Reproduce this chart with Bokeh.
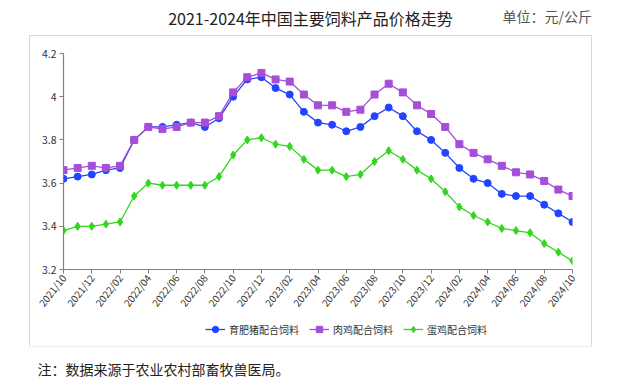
import math
from bokeh.plotting import figure
from bokeh.layouts import column
from bokeh.models import Range1d, FixedTicker, Label, Legend, LegendItem
from bokeh.embed import file_html
from bokeh.resources import INLINE

months = ["2021/10", "2021/11", "2021/12", "2022/01", "2022/02", "2022/03", "2022/04",
          "2022/05", "2022/06", "2022/07", "2022/08", "2022/09", "2022/10", "2022/11",
          "2022/12", "2023/01", "2023/02", "2023/03", "2023/04", "2023/05", "2023/06",
          "2023/07", "2023/08", "2023/09", "2023/10", "2023/11", "2023/12", "2024/01",
          "2024/02", "2024/03", "2024/04", "2024/05", "2024/06", "2024/07", "2024/08",
          "2024/09", "2024/10"]

pig = [3.62, 3.63, 3.64, 3.66, 3.67, 3.80, 3.86, 3.86, 3.87, 3.88, 3.86, 3.90,
       4.00, 4.08, 4.09, 4.04, 4.01, 3.93, 3.88, 3.87, 3.84, 3.86, 3.91, 3.95,
       3.91, 3.84, 3.80, 3.74, 3.67, 3.62, 3.60, 3.55, 3.54, 3.54, 3.50, 3.46, 3.42]
broiler = [3.66, 3.67, 3.68, 3.67, 3.68, 3.80, 3.86, 3.85, 3.86, 3.88, 3.88, 3.91,
           4.02, 4.09, 4.11, 4.08, 4.07, 4.01, 3.96, 3.96, 3.93, 3.94, 4.01, 4.06,
           4.02, 3.96, 3.92, 3.86, 3.78, 3.74, 3.71, 3.68, 3.65, 3.64, 3.61, 3.57, 3.54]
layer = [3.38, 3.40, 3.40, 3.41, 3.42, 3.54, 3.60, 3.59, 3.59, 3.59, 3.59, 3.63,
         3.73, 3.80, 3.81, 3.78, 3.77, 3.71, 3.66, 3.66, 3.63, 3.64, 3.70, 3.75,
         3.71, 3.66, 3.62, 3.56, 3.49, 3.45, 3.42, 3.39, 3.38, 3.37, 3.32, 3.28, 3.24]

series_names = ["育肥猪配合饲料", "肉鸡配合饲料", "蛋鸡配合饲料"]
y_ticks = [3.2, 3.4, 3.6, 3.8, 4.0, 4.2]
title_text = "2021-2024年中国主要饲料产品价格走势"
unit_text = "单位：元/公斤"
note_text = "注：数据来源于农业农村部畜牧兽医局。"

x = list(range(len(months)))
XMAX = len(months) - 1
FONT = "Noto Sans CJK SC"
PAGE_W = 620

colors = ["#2244ff", "#a64ed8", "#33d61f"]
markers = ["circle", "square", "diamond"]
sizes = [7, 7, 8]


def strip(h, y0):
    f = figure(width=PAGE_W, height=h, output_backend="svg", toolbar_location=None,
               x_range=Range1d(0, PAGE_W), y_range=Range1d(y0 + h, y0),
               x_axis_location=None, y_axis_location=None,
               min_border=0, min_border_left=0, min_border_right=0,
               min_border_top=0, min_border_bottom=0)
    f.outline_line_color = None
    f.grid.visible = False
    return f


# ---- top strip: title + unit ----
TOP_H = 36
top = strip(TOP_H, 0)
top.add_layout(Label(x=310, y=17, text=title_text, text_align="center", text_baseline="middle",
                     text_font=FONT, text_font_size="16px", text_color="#222222"))
top.add_layout(Label(x=502, y=15, text=unit_text, text_align="left", text_baseline="middle",
                     text_font=FONT, text_font_size="14px", text_color="#555555"))

# ---- main chart ----
BOX_L, BOX_T, BOX_R, BOX_B = 30, 36, 591, 346
FL, FT, FRX, FBY = 63, 53, 572, 270
LEG_TOP = 317
W = BOX_R - BOX_L
H = LEG_TOP - BOX_T

p = figure(width=W, height=H, output_backend="svg", toolbar_location=None,
           x_range=Range1d(0, XMAX), y_range=Range1d(3.2, 4.2),
           min_border_left=FL - BOX_L, min_border_right=BOX_R - FRX,
           min_border_top=FT - BOX_T, min_border_bottom=LEG_TOP - FBY)
p.outline_line_color = None
p.xgrid.visible = False
p.ygrid.visible = False

for ax in (p.xaxis[0], p.yaxis[0]):
    ax.axis_line_color = "#808080"
    ax.axis_line_width = 1.2
    ax.major_tick_line_color = "#808080"
    ax.major_tick_out = 4
    ax.major_tick_in = 0
    ax.minor_tick_line_color = None
    ax.major_label_text_color = "#333333"
    ax.major_label_text_font = FONT
    ax.major_label_text_font_size = "10.5px"

p.yaxis[0].ticker = FixedTicker(ticks=y_ticks)
p.yaxis[0].major_label_overrides = {t: ("4" if abs(t - 4) < 1e-9 else f"{t:.1f}") for t in y_ticks}
p.yaxis[0].major_label_standoff = 3

tick_idx = list(range(0, len(months), 2))
p.xaxis[0].ticker = FixedTicker(ticks=tick_idx)
p.xaxis[0].major_label_overrides = {i: months[i] for i in tick_idx}
p.xaxis[0].major_label_orientation = math.radians(52)
p.xaxis[0].major_label_standoff = 2
p.xaxis[0].major_label_text_font_size = "10px"

for d, c, m, s in zip([pig, broiler, layer], colors, markers, sizes):
    p.line(x, d, line_color=c, line_width=1.3)
    p.scatter(x, d, marker=m, size=s, fill_color=c, line_color=c)

# ---- legend strip (inside the box) ----
LEG_H = BOX_B - LEG_TOP
leg = figure(width=W, height=LEG_H, output_backend="svg", toolbar_location=None,
             x_range=Range1d(0, 1), y_range=Range1d(0, 1),
             x_axis_location=None, y_axis_location=None,
             min_border=0, min_border_left=0, min_border_right=0,
             min_border_top=0, min_border_bottom=0)
leg.outline_line_color = None
leg.grid.visible = False
items = []
for name, c, m, s in zip(series_names, colors, markers, sizes):
    ln = leg.line([-5, -4], [-5, -5], line_color=c, line_width=1.3)
    sc = leg.scatter([-5], [-5], marker=m, size=s, fill_color=c, line_color=c)
    items.append(LegendItem(label=name, renderers=[ln, sc]))
legend = Legend(items=items, orientation="horizontal", location=(142, 9),
                label_text_font=FONT, label_text_font_size="10px", label_text_color="#333333",
                glyph_width=20, glyph_height=16, label_standoff=4, spacing=10,
                padding=0, margin=0, border_line_color=None, background_fill_alpha=0,
                label_height=16)
leg.add_layout(legend)

box = column(p, leg, spacing=0, margin=(0, 0, 0, BOX_L),
             styles={"outline": "1px solid #d9d9d9"})

# ---- bottom strip: footnote ----
BOT_H = 36
bot = strip(BOT_H, BOX_B)
bot.add_layout(Label(x=37, y=368, text=note_text, text_align="left", text_baseline="middle",
                     text_font=FONT, text_font_size="14px", text_color="#222222"))

layout = column(top, box, bot, spacing=0)
open("out.html", "w").write(file_html(layout, INLINE))
